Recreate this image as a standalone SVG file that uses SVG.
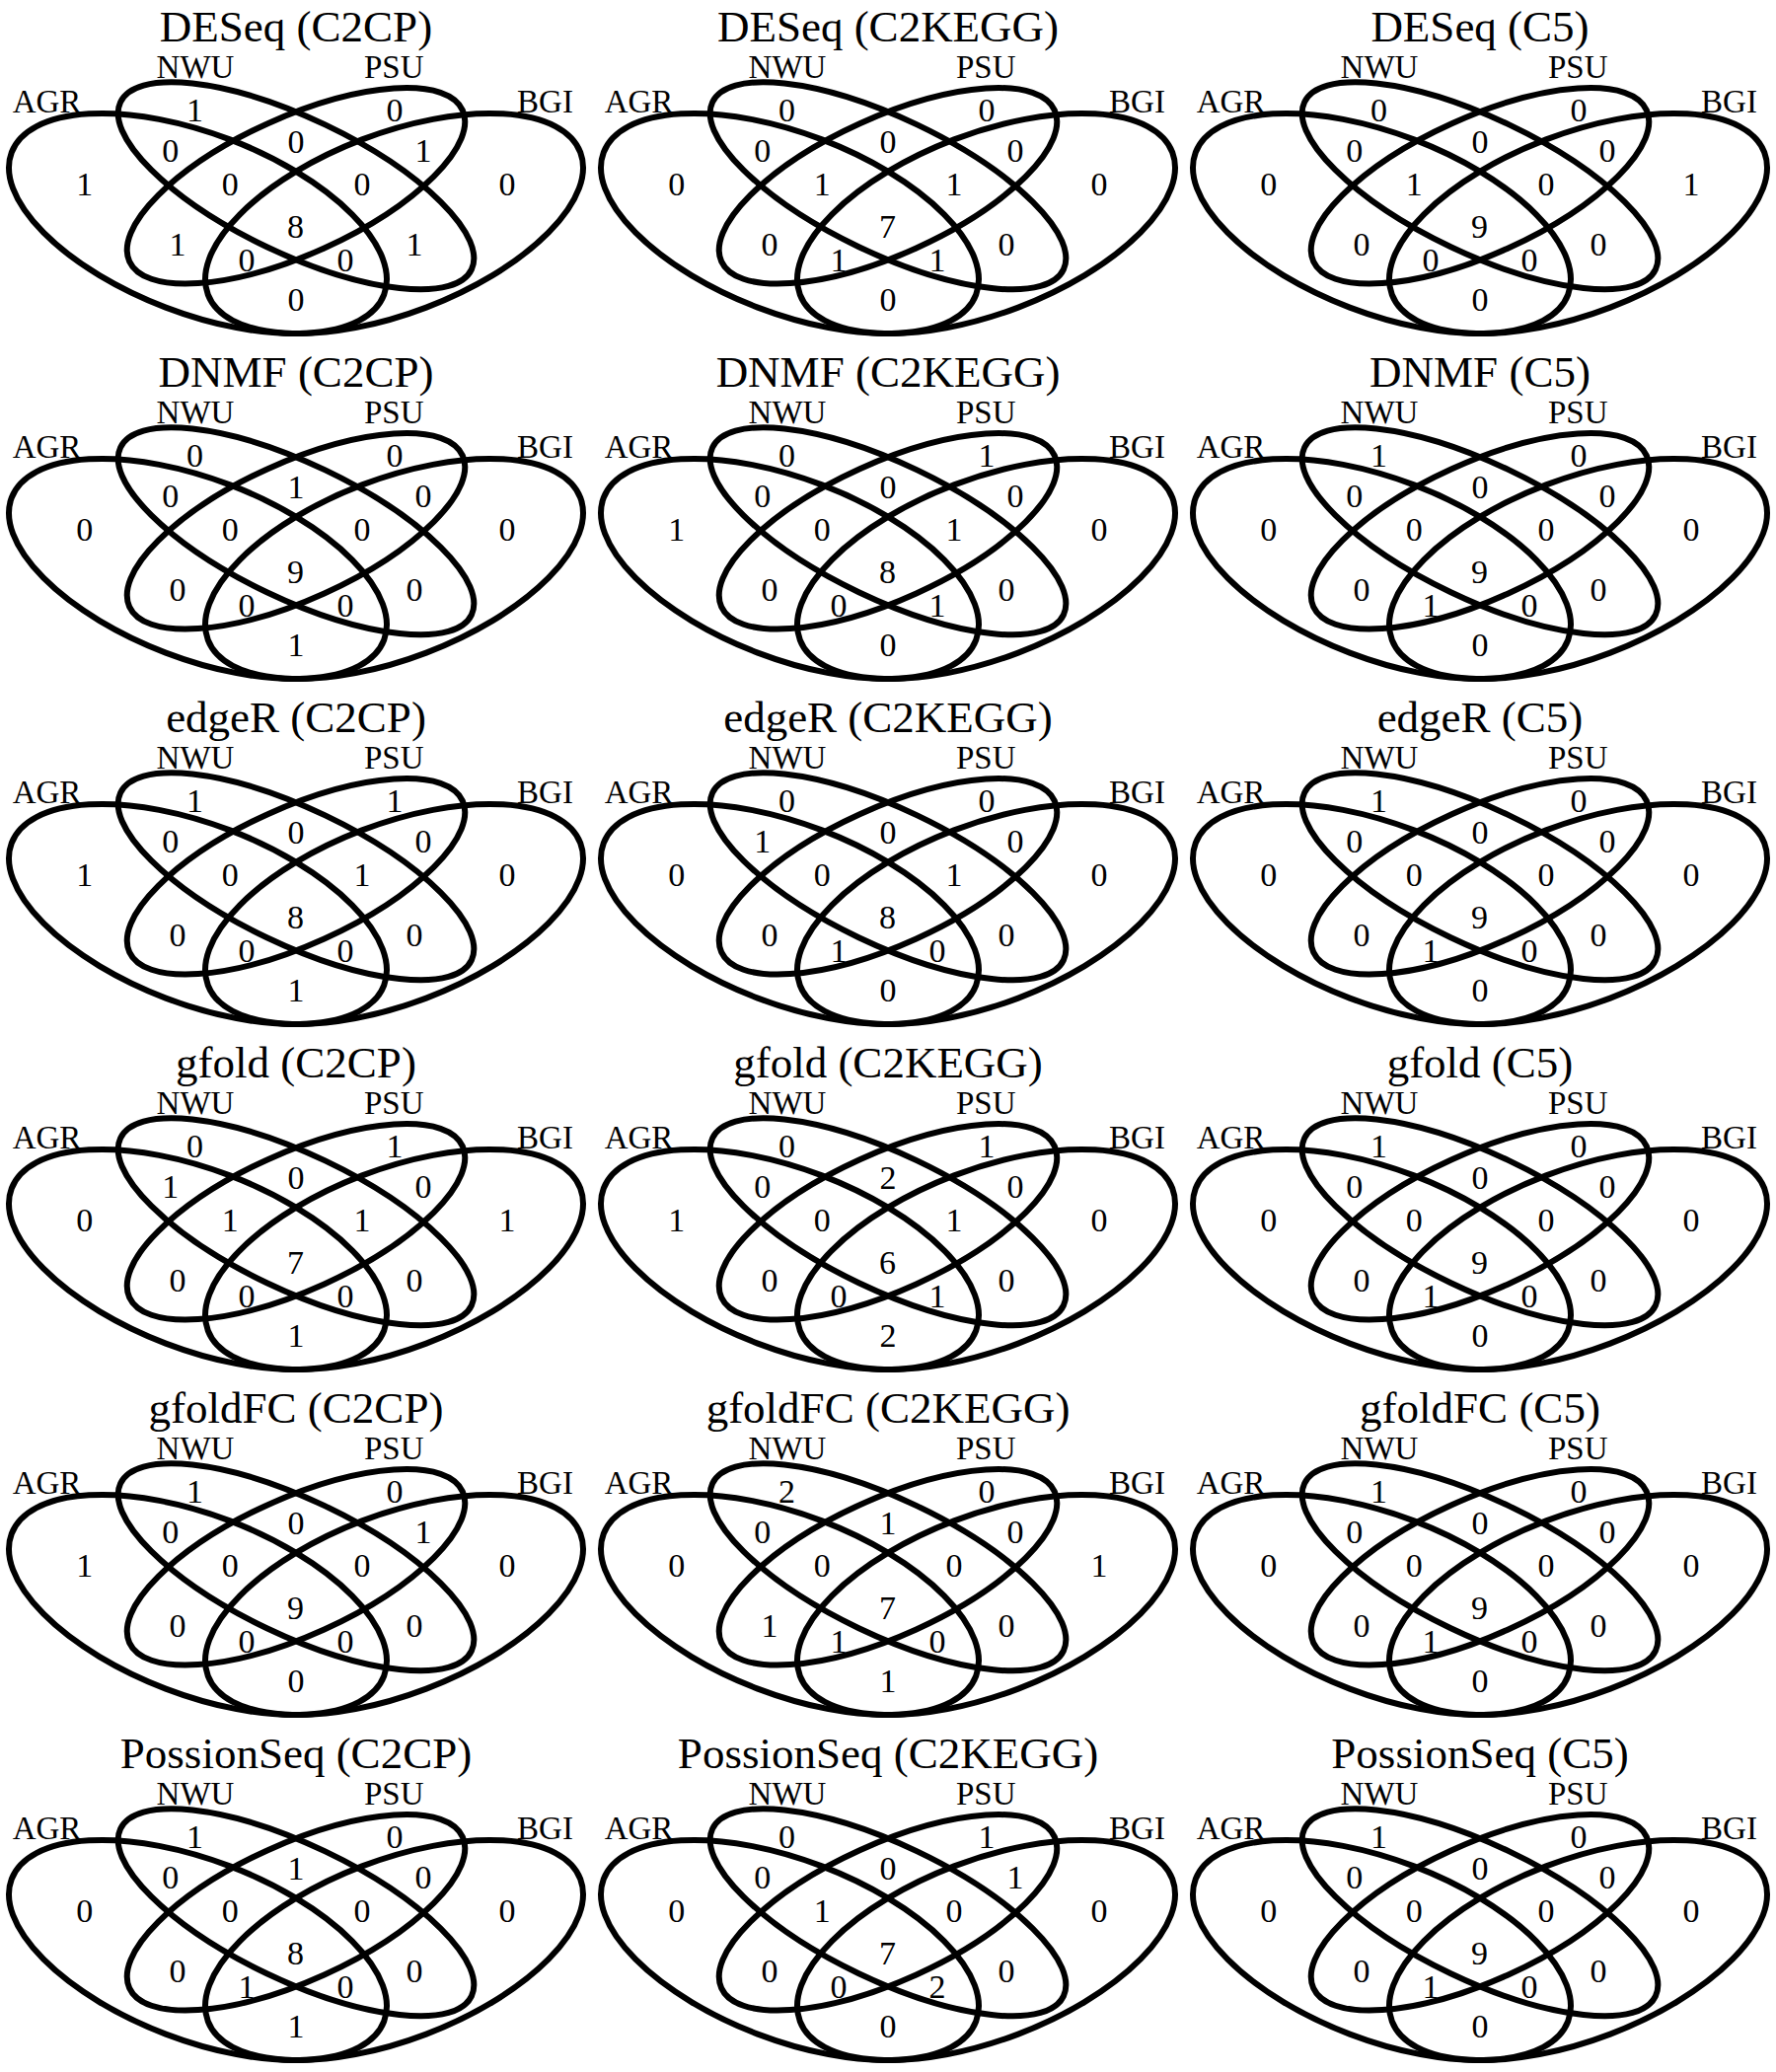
<svg xmlns="http://www.w3.org/2000/svg" width="1800" height="2100" viewBox="0 0 1800 2100">
<style>
.e{fill:none;stroke:#000;stroke-width:6}
text{font-family:"Liberation Serif","Times New Roman",serif;fill:#000;text-anchor:middle}
.t{font-size:45px}
.l{font-size:33px}
.n{font-size:34px}
</style>
<defs>
<ellipse id="eA" class="e" cx="200.5" cy="226.5" rx="202" ry="91.1" transform="rotate(20.9 200.5 226.5)"/>
<ellipse id="eN" class="e" cx="300" cy="188.3" rx="197.1" ry="68.6" transform="rotate(25.5 300 188.3)"/>
<ellipse id="eP" class="e" cx="300" cy="188.3" rx="185.4" ry="69.3" transform="rotate(-24.4 300 188.3)"/>
<ellipse id="eB" class="e" cx="399.5" cy="226.5" rx="202" ry="91.1" transform="rotate(-20.9 399.5 226.5)"/>
<g id="sets">
<use href="#eA"/><use href="#eN"/><use href="#eP"/><use href="#eB"/>
<text class="l" x="47.5" y="114">AGR</text>
<text class="l" x="198" y="79.3">NWU</text>
<text class="l" x="399.2" y="79.3">PSU</text>
<text class="l" x="552.5" y="113.5">BGI</text>
</g>
</defs>

<g id="deseq-c2cp" transform="translate(0 0)">
<text class="t" x="300" y="41.7">DESeq (C2CP)</text>
<use href="#sets"/>
<g class="counts">
<text class="n" x="197.5" y="123.2">1</text><text class="n" x="400" y="123.2">0</text>
<text class="n" x="172.7" y="164.2">0</text><text class="n" x="300" y="154.7">0</text><text class="n" x="429" y="163.7">1</text>
<text class="n" x="85.7" y="198">1</text><text class="n" x="233.3" y="198">0</text><text class="n" x="367" y="198">0</text><text class="n" x="514" y="198">0</text>
<text class="n" x="299.5" y="240.7">8</text>
<text class="n" x="180" y="259">1</text><text class="n" x="420" y="259">1</text>
<text class="n" x="250" y="274.5">0</text><text class="n" x="350" y="274.5">0</text>
<text class="n" x="300" y="315">0</text>
</g>
</g>

<g id="deseq-c2kegg" transform="translate(600 0)">
<text class="t" x="300" y="41.7">DESeq (C2KEGG)</text>
<use href="#sets"/>
<g class="counts">
<text class="n" x="197.5" y="123.2">0</text><text class="n" x="400" y="123.2">0</text>
<text class="n" x="172.7" y="164.2">0</text><text class="n" x="300" y="154.7">0</text><text class="n" x="429" y="163.7">0</text>
<text class="n" x="85.7" y="198">0</text><text class="n" x="233.3" y="198">1</text><text class="n" x="367" y="198">1</text><text class="n" x="514" y="198">0</text>
<text class="n" x="299.5" y="240.7">7</text>
<text class="n" x="180" y="259">0</text><text class="n" x="420" y="259">0</text>
<text class="n" x="250" y="274.5">1</text><text class="n" x="350" y="274.5">1</text>
<text class="n" x="300" y="315">0</text>
</g>
</g>

<g id="deseq-c5" transform="translate(1200 0)">
<text class="t" x="300" y="41.7">DESeq (C5)</text>
<use href="#sets"/>
<g class="counts">
<text class="n" x="197.5" y="123.2">0</text><text class="n" x="400" y="123.2">0</text>
<text class="n" x="172.7" y="164.2">0</text><text class="n" x="300" y="154.7">0</text><text class="n" x="429" y="163.7">0</text>
<text class="n" x="85.7" y="198">0</text><text class="n" x="233.3" y="198">1</text><text class="n" x="367" y="198">0</text><text class="n" x="514" y="198">1</text>
<text class="n" x="299.5" y="240.7">9</text>
<text class="n" x="180" y="259">0</text><text class="n" x="420" y="259">0</text>
<text class="n" x="250" y="274.5">0</text><text class="n" x="350" y="274.5">0</text>
<text class="n" x="300" y="315">0</text>
</g>
</g>

<g id="dnmf-c2cp" transform="translate(0 350)">
<text class="t" x="300" y="41.7">DNMF (C2CP)</text>
<use href="#sets"/>
<g class="counts">
<text class="n" x="197.5" y="123.2">0</text><text class="n" x="400" y="123.2">0</text>
<text class="n" x="172.7" y="164.2">0</text><text class="n" x="300" y="154.7">1</text><text class="n" x="429" y="163.7">0</text>
<text class="n" x="85.7" y="198">0</text><text class="n" x="233.3" y="198">0</text><text class="n" x="367" y="198">0</text><text class="n" x="514" y="198">0</text>
<text class="n" x="299.5" y="240.7">9</text>
<text class="n" x="180" y="259">0</text><text class="n" x="420" y="259">0</text>
<text class="n" x="250" y="274.5">0</text><text class="n" x="350" y="274.5">0</text>
<text class="n" x="300" y="315">1</text>
</g>
</g>

<g id="dnmf-c2kegg" transform="translate(600 350)">
<text class="t" x="300" y="41.7">DNMF (C2KEGG)</text>
<use href="#sets"/>
<g class="counts">
<text class="n" x="197.5" y="123.2">0</text><text class="n" x="400" y="123.2">1</text>
<text class="n" x="172.7" y="164.2">0</text><text class="n" x="300" y="154.7">0</text><text class="n" x="429" y="163.7">0</text>
<text class="n" x="85.7" y="198">1</text><text class="n" x="233.3" y="198">0</text><text class="n" x="367" y="198">1</text><text class="n" x="514" y="198">0</text>
<text class="n" x="299.5" y="240.7">8</text>
<text class="n" x="180" y="259">0</text><text class="n" x="420" y="259">0</text>
<text class="n" x="250" y="274.5">0</text><text class="n" x="350" y="274.5">1</text>
<text class="n" x="300" y="315">0</text>
</g>
</g>

<g id="dnmf-c5" transform="translate(1200 350)">
<text class="t" x="300" y="41.7">DNMF (C5)</text>
<use href="#sets"/>
<g class="counts">
<text class="n" x="197.5" y="123.2">1</text><text class="n" x="400" y="123.2">0</text>
<text class="n" x="172.7" y="164.2">0</text><text class="n" x="300" y="154.7">0</text><text class="n" x="429" y="163.7">0</text>
<text class="n" x="85.7" y="198">0</text><text class="n" x="233.3" y="198">0</text><text class="n" x="367" y="198">0</text><text class="n" x="514" y="198">0</text>
<text class="n" x="299.5" y="240.7">9</text>
<text class="n" x="180" y="259">0</text><text class="n" x="420" y="259">0</text>
<text class="n" x="250" y="274.5">1</text><text class="n" x="350" y="274.5">0</text>
<text class="n" x="300" y="315">0</text>
</g>
</g>

<g id="edger-c2cp" transform="translate(0 700)">
<text class="t" x="300" y="41.7">edgeR (C2CP)</text>
<use href="#sets"/>
<g class="counts">
<text class="n" x="197.5" y="123.2">1</text><text class="n" x="400" y="123.2">1</text>
<text class="n" x="172.7" y="164.2">0</text><text class="n" x="300" y="154.7">0</text><text class="n" x="429" y="163.7">0</text>
<text class="n" x="85.7" y="198">1</text><text class="n" x="233.3" y="198">0</text><text class="n" x="367" y="198">1</text><text class="n" x="514" y="198">0</text>
<text class="n" x="299.5" y="240.7">8</text>
<text class="n" x="180" y="259">0</text><text class="n" x="420" y="259">0</text>
<text class="n" x="250" y="274.5">0</text><text class="n" x="350" y="274.5">0</text>
<text class="n" x="300" y="315">1</text>
</g>
</g>

<g id="edger-c2kegg" transform="translate(600 700)">
<text class="t" x="300" y="41.7">edgeR (C2KEGG)</text>
<use href="#sets"/>
<g class="counts">
<text class="n" x="197.5" y="123.2">0</text><text class="n" x="400" y="123.2">0</text>
<text class="n" x="172.7" y="164.2">1</text><text class="n" x="300" y="154.7">0</text><text class="n" x="429" y="163.7">0</text>
<text class="n" x="85.7" y="198">0</text><text class="n" x="233.3" y="198">0</text><text class="n" x="367" y="198">1</text><text class="n" x="514" y="198">0</text>
<text class="n" x="299.5" y="240.7">8</text>
<text class="n" x="180" y="259">0</text><text class="n" x="420" y="259">0</text>
<text class="n" x="250" y="274.5">1</text><text class="n" x="350" y="274.5">0</text>
<text class="n" x="300" y="315">0</text>
</g>
</g>

<g id="edger-c5" transform="translate(1200 700)">
<text class="t" x="300" y="41.7">edgeR (C5)</text>
<use href="#sets"/>
<g class="counts">
<text class="n" x="197.5" y="123.2">1</text><text class="n" x="400" y="123.2">0</text>
<text class="n" x="172.7" y="164.2">0</text><text class="n" x="300" y="154.7">0</text><text class="n" x="429" y="163.7">0</text>
<text class="n" x="85.7" y="198">0</text><text class="n" x="233.3" y="198">0</text><text class="n" x="367" y="198">0</text><text class="n" x="514" y="198">0</text>
<text class="n" x="299.5" y="240.7">9</text>
<text class="n" x="180" y="259">0</text><text class="n" x="420" y="259">0</text>
<text class="n" x="250" y="274.5">1</text><text class="n" x="350" y="274.5">0</text>
<text class="n" x="300" y="315">0</text>
</g>
</g>

<g id="gfold-c2cp" transform="translate(0 1050)">
<text class="t" x="300" y="41.7">gfold (C2CP)</text>
<use href="#sets"/>
<g class="counts">
<text class="n" x="197.5" y="123.2">0</text><text class="n" x="400" y="123.2">1</text>
<text class="n" x="172.7" y="164.2">1</text><text class="n" x="300" y="154.7">0</text><text class="n" x="429" y="163.7">0</text>
<text class="n" x="85.7" y="198">0</text><text class="n" x="233.3" y="198">1</text><text class="n" x="367" y="198">1</text><text class="n" x="514" y="198">1</text>
<text class="n" x="299.5" y="240.7">7</text>
<text class="n" x="180" y="259">0</text><text class="n" x="420" y="259">0</text>
<text class="n" x="250" y="274.5">0</text><text class="n" x="350" y="274.5">0</text>
<text class="n" x="300" y="315">1</text>
</g>
</g>

<g id="gfold-c2kegg" transform="translate(600 1050)">
<text class="t" x="300" y="41.7">gfold (C2KEGG)</text>
<use href="#sets"/>
<g class="counts">
<text class="n" x="197.5" y="123.2">0</text><text class="n" x="400" y="123.2">1</text>
<text class="n" x="172.7" y="164.2">0</text><text class="n" x="300" y="154.7">2</text><text class="n" x="429" y="163.7">0</text>
<text class="n" x="85.7" y="198">1</text><text class="n" x="233.3" y="198">0</text><text class="n" x="367" y="198">1</text><text class="n" x="514" y="198">0</text>
<text class="n" x="299.5" y="240.7">6</text>
<text class="n" x="180" y="259">0</text><text class="n" x="420" y="259">0</text>
<text class="n" x="250" y="274.5">0</text><text class="n" x="350" y="274.5">1</text>
<text class="n" x="300" y="315">2</text>
</g>
</g>

<g id="gfold-c5" transform="translate(1200 1050)">
<text class="t" x="300" y="41.7">gfold (C5)</text>
<use href="#sets"/>
<g class="counts">
<text class="n" x="197.5" y="123.2">1</text><text class="n" x="400" y="123.2">0</text>
<text class="n" x="172.7" y="164.2">0</text><text class="n" x="300" y="154.7">0</text><text class="n" x="429" y="163.7">0</text>
<text class="n" x="85.7" y="198">0</text><text class="n" x="233.3" y="198">0</text><text class="n" x="367" y="198">0</text><text class="n" x="514" y="198">0</text>
<text class="n" x="299.5" y="240.7">9</text>
<text class="n" x="180" y="259">0</text><text class="n" x="420" y="259">0</text>
<text class="n" x="250" y="274.5">1</text><text class="n" x="350" y="274.5">0</text>
<text class="n" x="300" y="315">0</text>
</g>
</g>

<g id="gfoldfc-c2cp" transform="translate(0 1400)">
<text class="t" x="300" y="41.7">gfoldFC (C2CP)</text>
<use href="#sets"/>
<g class="counts">
<text class="n" x="197.5" y="123.2">1</text><text class="n" x="400" y="123.2">0</text>
<text class="n" x="172.7" y="164.2">0</text><text class="n" x="300" y="154.7">0</text><text class="n" x="429" y="163.7">1</text>
<text class="n" x="85.7" y="198">1</text><text class="n" x="233.3" y="198">0</text><text class="n" x="367" y="198">0</text><text class="n" x="514" y="198">0</text>
<text class="n" x="299.5" y="240.7">9</text>
<text class="n" x="180" y="259">0</text><text class="n" x="420" y="259">0</text>
<text class="n" x="250" y="274.5">0</text><text class="n" x="350" y="274.5">0</text>
<text class="n" x="300" y="315">0</text>
</g>
</g>

<g id="gfoldfc-c2kegg" transform="translate(600 1400)">
<text class="t" x="300" y="41.7">gfoldFC (C2KEGG)</text>
<use href="#sets"/>
<g class="counts">
<text class="n" x="197.5" y="123.2">2</text><text class="n" x="400" y="123.2">0</text>
<text class="n" x="172.7" y="164.2">0</text><text class="n" x="300" y="154.7">1</text><text class="n" x="429" y="163.7">0</text>
<text class="n" x="85.7" y="198">0</text><text class="n" x="233.3" y="198">0</text><text class="n" x="367" y="198">0</text><text class="n" x="514" y="198">1</text>
<text class="n" x="299.5" y="240.7">7</text>
<text class="n" x="180" y="259">1</text><text class="n" x="420" y="259">0</text>
<text class="n" x="250" y="274.5">1</text><text class="n" x="350" y="274.5">0</text>
<text class="n" x="300" y="315">1</text>
</g>
</g>

<g id="gfoldfc-c5" transform="translate(1200 1400)">
<text class="t" x="300" y="41.7">gfoldFC (C5)</text>
<use href="#sets"/>
<g class="counts">
<text class="n" x="197.5" y="123.2">1</text><text class="n" x="400" y="123.2">0</text>
<text class="n" x="172.7" y="164.2">0</text><text class="n" x="300" y="154.7">0</text><text class="n" x="429" y="163.7">0</text>
<text class="n" x="85.7" y="198">0</text><text class="n" x="233.3" y="198">0</text><text class="n" x="367" y="198">0</text><text class="n" x="514" y="198">0</text>
<text class="n" x="299.5" y="240.7">9</text>
<text class="n" x="180" y="259">0</text><text class="n" x="420" y="259">0</text>
<text class="n" x="250" y="274.5">1</text><text class="n" x="350" y="274.5">0</text>
<text class="n" x="300" y="315">0</text>
</g>
</g>

<g id="possionseq-c2cp" transform="translate(0 1750)">
<text class="t" x="300" y="41.7">PossionSeq (C2CP)</text>
<use href="#sets"/>
<g class="counts">
<text class="n" x="197.5" y="123.2">1</text><text class="n" x="400" y="123.2">0</text>
<text class="n" x="172.7" y="164.2">0</text><text class="n" x="300" y="154.7">1</text><text class="n" x="429" y="163.7">0</text>
<text class="n" x="85.7" y="198">0</text><text class="n" x="233.3" y="198">0</text><text class="n" x="367" y="198">0</text><text class="n" x="514" y="198">0</text>
<text class="n" x="299.5" y="240.7">8</text>
<text class="n" x="180" y="259">0</text><text class="n" x="420" y="259">0</text>
<text class="n" x="250" y="274.5">1</text><text class="n" x="350" y="274.5">0</text>
<text class="n" x="300" y="315">1</text>
</g>
</g>

<g id="possionseq-c2kegg" transform="translate(600 1750)">
<text class="t" x="300" y="41.7">PossionSeq (C2KEGG)</text>
<use href="#sets"/>
<g class="counts">
<text class="n" x="197.5" y="123.2">0</text><text class="n" x="400" y="123.2">1</text>
<text class="n" x="172.7" y="164.2">0</text><text class="n" x="300" y="154.7">0</text><text class="n" x="429" y="163.7">1</text>
<text class="n" x="85.7" y="198">0</text><text class="n" x="233.3" y="198">1</text><text class="n" x="367" y="198">0</text><text class="n" x="514" y="198">0</text>
<text class="n" x="299.5" y="240.7">7</text>
<text class="n" x="180" y="259">0</text><text class="n" x="420" y="259">0</text>
<text class="n" x="250" y="274.5">0</text><text class="n" x="350" y="274.5">2</text>
<text class="n" x="300" y="315">0</text>
</g>
</g>

<g id="possionseq-c5" transform="translate(1200 1750)">
<text class="t" x="300" y="41.7">PossionSeq (C5)</text>
<use href="#sets"/>
<g class="counts">
<text class="n" x="197.5" y="123.2">1</text><text class="n" x="400" y="123.2">0</text>
<text class="n" x="172.7" y="164.2">0</text><text class="n" x="300" y="154.7">0</text><text class="n" x="429" y="163.7">0</text>
<text class="n" x="85.7" y="198">0</text><text class="n" x="233.3" y="198">0</text><text class="n" x="367" y="198">0</text><text class="n" x="514" y="198">0</text>
<text class="n" x="299.5" y="240.7">9</text>
<text class="n" x="180" y="259">0</text><text class="n" x="420" y="259">0</text>
<text class="n" x="250" y="274.5">1</text><text class="n" x="350" y="274.5">0</text>
<text class="n" x="300" y="315">0</text>
</g>
</g>
</svg>
